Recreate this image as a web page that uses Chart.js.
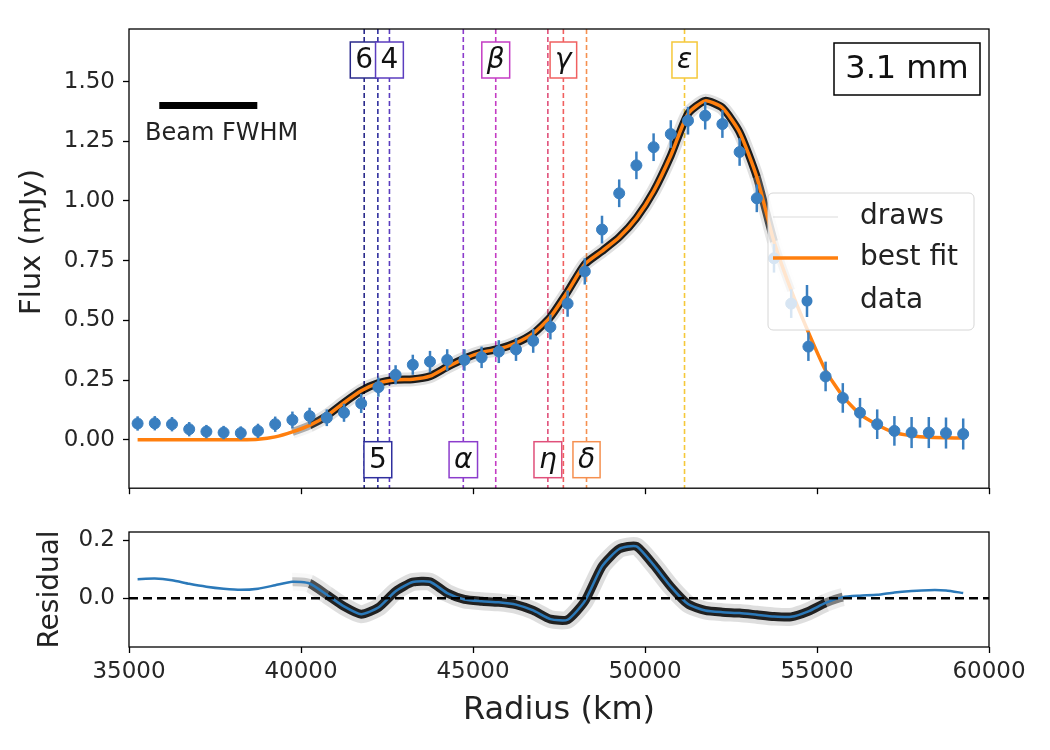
<!DOCTYPE html>
<html>
<head>
<meta charset="utf-8">
<script src="https://cdn.jsdelivr.net/npm/chart.js@4.4.0/dist/chart.umd.min.js"></script>
<style>
  html, body { margin: 0; padding: 0; background: #fff; }
  #top { position: absolute; left: 0; top: 0; width: 1050px; height: 510px; }
  #bot { position: absolute; left: 0; top: 510px; width: 1050px; height: 240px; }
</style>
</head>
<body>
<div id="top"><canvas id="flux"></canvas></div>
<div id="bot"><canvas id="resid"></canvas></div>
<script>
// radial profile, 3.1 mm
const radius = [35250, 35750, 36250, 36750, 37250, 37750, 38250, 38750, 39250, 39750,
  40250, 40750, 41250, 41750, 42250, 42750, 43250, 43750, 44250, 44750,
  45250, 45750, 46250, 46750, 47250, 47750, 48250, 48750, 49250, 49750,
  50250, 50750, 51250, 51750, 52250, 52750, 53250, 53750, 54250, 54750,
  55250, 55750, 56250, 56750, 57250, 57750, 58250, 58750, 59250];

const flux = [0.068, 0.069, 0.065, 0.044, 0.034, 0.030, 0.028, 0.037, 0.065, 0.083,
  0.099, 0.092, 0.113, 0.152, 0.220, 0.272, 0.314, 0.327, 0.334, 0.334,
  0.345, 0.369, 0.378, 0.414, 0.472, 0.570, 0.705, 0.880, 1.032, 1.149,
  1.225, 1.280, 1.336, 1.357, 1.322, 1.205, 1.011, 0.760, 0.570, 0.390,
  0.265, 0.175, 0.113, 0.065, 0.037, 0.030, 0.030, 0.028, 0.024];

const fluxErr = [0.030, 0.030, 0.030, 0.030, 0.028, 0.028, 0.028, 0.030, 0.032, 0.035,
  0.035, 0.035, 0.038, 0.040, 0.040, 0.040, 0.042, 0.045, 0.045, 0.045,
  0.045, 0.048, 0.048, 0.050, 0.052, 0.055, 0.055, 0.058, 0.058, 0.058,
  0.058, 0.058, 0.058, 0.058, 0.058, 0.058, 0.058, 0.060, 0.060, 0.060,
  0.062, 0.062, 0.062, 0.062, 0.062, 0.065, 0.065, 0.065, 0.065];

const bestFit = [0.0, 0.0, 0.0, 0.0, 0.0, 0.0, 0.0, 0.002, 0.012, 0.033,
  0.060, 0.100, 0.155, 0.205, 0.237, 0.251, 0.253, 0.266, 0.305, 0.340,
  0.366, 0.380, 0.405, 0.445, 0.514, 0.620, 0.735, 0.790, 0.848, 0.928,
  1.040, 1.190, 1.365, 1.419, 1.390, 1.288, 1.100, 0.830, 0.625, 0.450,
  0.290, 0.182, 0.107, 0.063, 0.030, 0.017, 0.010, 0.008, 0.007];

const residual = [0.066, 0.068, 0.062, 0.050, 0.040, 0.033, 0.029, 0.033, 0.045, 0.057,
  0.051, 0.012, -0.028, -0.055, -0.032, 0.024, 0.056, 0.057, 0.018, -0.004,
  -0.010, -0.014, -0.022, -0.042, -0.072, -0.074, -0.010, 0.110, 0.170, 0.179,
  0.115, 0.040, -0.020, -0.042, -0.048, -0.051, -0.057, -0.063, -0.064, -0.045,
  -0.016, 0.004, 0.009, 0.012, 0.020, 0.025, 0.028, 0.027, 0.018];

const ringNames = ['6', '5', '4', 'α', 'β', 'η', 'γ', 'δ', 'ε'];
const ringRadii = [41837, 42234, 42571, 44718, 45661, 47176, 47627, 48300, 51149];

const fluxTicks = [0, 0.25, 0.5, 0.75, 1.0, 1.25, 1.5];
const residTicks = [0, 0.2];
const beamRange = [35880, 38730];
const beamLevel = 1.40;
const zeroLine = [35000, 60000];

// styles
const C0 = '#3a7fc0';
const ORANGE = '#ff7f0e';
const ringColors = ['#2a2a8c', '#30309e', '#5b3dbf', '#8c3ccc', '#c43cc4', '#e0507a', '#f06060', '#f59050', '#f5c83a'];
const fluxBand = [39700, 54200];
const residBand = [39800, 56000];
const FONT = "'DejaVu Sans', sans-serif";

Chart.defaults.font.family = FONT;
Chart.defaults.color = '#262626';

const pts = ys => radius.map((r, i) => ({ x: r, y: ys[i] }));

// draws band fades in/out at the ends of its range
const bandColor = (range, alpha) => ctx => {
  const xm = (ctx.p0.parsed.x + ctx.p1.parsed.x) / 2;
  const f = Math.max(0, Math.min(1, (xm - range[0]) / 900, (range[1] - xm) / 900));
  return 'rgba(0,0,0,' + (alpha * f).toFixed(3) + ')';
};

function frame(chart) {
  const { ctx, chartArea: a } = chart;
  ctx.save();
  ctx.strokeStyle = '#000';
  ctx.lineWidth = 1.3;
  ctx.setLineDash([]);
  ctx.strokeRect(a.left, a.top, a.right - a.left, a.bottom - a.top);
  ctx.restore();
}

const fluxOverlay = {
  id: 'fluxOverlay',
  beforeDatasetsDraw(chart) {
    const { ctx, chartArea: a, scales: { x } } = chart;
    ctx.save();
    ctx.lineWidth = 1.6;
    ctx.setLineDash([5, 3]);
    ringRadii.forEach((r, i) => {
      const px = x.getPixelForValue(r);
      ctx.strokeStyle = ringColors[i];
      ctx.beginPath();
      ctx.moveTo(px, a.top);
      ctx.lineTo(px, a.bottom);
      ctx.stroke();
    });
    ctx.restore();
  },
  afterDatasetsDraw(chart) {
    const { ctx, chartArea: a, scales: { x, y } } = chart;
    ctx.save();

    // error bars
    ctx.strokeStyle = C0;
    ctx.lineWidth = 2.5;
    radius.forEach((r, i) => {
      const px = x.getPixelForValue(r);
      ctx.beginPath();
      ctx.moveTo(px, y.getPixelForValue(flux[i] - fluxErr[i]));
      ctx.lineTo(px, y.getPixelForValue(flux[i] + fluxErr[i]));
      ctx.stroke();
    });

    // ring labels
    ctx.textAlign = 'center';
    ctx.textBaseline = 'middle';
    ringNames.forEach((n, i) => {
      const px = x.getPixelForValue(ringRadii[i]);
      const cy = i % 2 === 0 ? a.top + 31 : a.bottom - 28.5;
      ctx.font = (/\d/.test(n) ? '' : 'italic ') + '28px ' + FONT;
      const w = ctx.measureText(n).width + 10;
      ctx.fillStyle = '#fff';
      ctx.fillRect(px - w / 2, cy - 18, w, 36);
      ctx.strokeStyle = ringColors[i];
      ctx.lineWidth = 1.5;
      ctx.strokeRect(px - w / 2, cy - 18, w, 36);
      ctx.fillStyle = '#111';
      ctx.fillText(n, px, cy + 1);
    });

    // beam
    const by = y.getPixelForValue(beamLevel);
    ctx.strokeStyle = '#000';
    ctx.lineWidth = 7;
    ctx.beginPath();
    ctx.moveTo(x.getPixelForValue(beamRange[0]), by);
    ctx.lineTo(x.getPixelForValue(beamRange[1]), by);
    ctx.stroke();
    ctx.font = '24px ' + FONT;
    ctx.fillStyle = '#222';
    ctx.textAlign = 'left';
    ctx.fillText('Beam FWHM', a.left + 16, by + 28);

    // wavelength box
    ctx.fillStyle = '#fff';
    ctx.fillRect(a.right - 155, a.top + 14, 146, 52);
    ctx.strokeStyle = '#000';
    ctx.lineWidth = 1.5;
    ctx.strokeRect(a.right - 155, a.top + 14, 146, 52);
    ctx.font = '32px ' + FONT;
    ctx.fillStyle = '#111';
    ctx.textAlign = 'center';
    ctx.fillText('3.1 mm', a.right - 82, a.top + 41);

    // legend
    const lx = a.right - 221, ly = a.top + 164, lw = 206, lh = 137;
    ctx.beginPath();
    ctx.roundRect(lx, ly, lw, lh, 5);
    ctx.fillStyle = 'rgba(255,255,255,0.8)';
    ctx.fill();
    ctx.strokeStyle = '#d6d6d6';
    ctx.lineWidth = 1;
    ctx.stroke();
    const rows = [ly + 24, ly + 65, ly + 108];
    ctx.lineWidth = 2;
    ctx.strokeStyle = 'rgba(0,0,0,0.07)';
    ctx.beginPath(); ctx.moveTo(lx + 5, rows[0]); ctx.lineTo(lx + 70, rows[0]); ctx.stroke();
    ctx.lineWidth = 3.5;
    ctx.strokeStyle = ORANGE;
    ctx.beginPath(); ctx.moveTo(lx + 5, rows[1]); ctx.lineTo(lx + 70, rows[1]); ctx.stroke();
    ctx.lineWidth = 2.5;
    ctx.strokeStyle = C0;
    ctx.beginPath(); ctx.moveTo(lx + 39, rows[2] - 16); ctx.lineTo(lx + 39, rows[2] + 16); ctx.stroke();
    ctx.fillStyle = C0;
    ctx.beginPath(); ctx.arc(lx + 39, rows[2], 5.5, 0, Math.PI * 2); ctx.fill();
    ctx.font = '28px ' + FONT;
    ctx.fillStyle = '#222';
    ctx.textAlign = 'left';
    ['draws', 'best fit', 'data'].forEach((t, i) => ctx.fillText(t, lx + 92, rows[i]));

    ctx.restore();
  },
  afterDraw(chart) {
    frame(chart);
    const { ctx } = chart;
    ctx.save();
    ctx.translate(32, 242);
    ctx.rotate(-Math.PI / 2);
    ctx.font = '29px ' + FONT;
    ctx.fillStyle = '#222';
    ctx.textAlign = 'center';
    ctx.textBaseline = 'middle';
    ctx.fillText('Flux (mJy)', 0, 0);
    ctx.restore();
  }
};

const axisGrid = { drawOnChartArea: false, color: '#000', tickLength: 6, tickWidth: 1.3 };

new Chart(document.getElementById('flux'), {
  type: 'line',
  data: {
    datasets: [
      { label: 'data', type: 'scatter', data: pts(flux), backgroundColor: C0, borderColor: C0,
        pointRadius: 5.5, pointHoverRadius: 5.5, showLine: false, order: 0 },
      { label: 'best fit', data: pts(bestFit), borderColor: ORANGE, borderWidth: 3.5,
        pointRadius: 0, tension: 0.2, order: 1 },
      { label: 'draws', data: pts(bestFit), borderColor: 'rgba(0,0,0,0.85)', borderWidth: 8,
        pointRadius: 0, tension: 0.2, order: 2,
        segment: { borderColor: bandColor(fluxBand, 0.88) } },
      { label: 'draws halo', data: pts(bestFit), borderColor: 'rgba(0,0,0,0.1)', borderWidth: 14,
        pointRadius: 0, tension: 0.2, order: 3,
        segment: { borderColor: bandColor(fluxBand, 0.12) } }
    ]
  },
  options: {
    responsive: true,
    maintainAspectRatio: false,
    animation: false,
    layout: { padding: { top: 29, right: 61, left: 0, bottom: 0 } },
    plugins: { legend: { display: false }, tooltip: { enabled: false } },
    scales: {
      x: {
        type: 'linear', min: 35000, max: 60000,
        ticks: { display: false, stepSize: 5000 },
        grid: axisGrid,
        border: { display: false },
        afterFit: s => { s.height = 17; }
      },
      y: {
        min: -0.203, max: 1.72,
        afterBuildTicks: s => { s.ticks = fluxTicks.map(v => ({ value: v })); },
        ticks: { callback: v => v.toFixed(2), font: { size: 23 }, padding: 8 },
        grid: axisGrid,
        border: { display: false },
        afterFit: s => { s.width = 129; }
      }
    }
  },
  plugins: [fluxOverlay]
});

new Chart(document.getElementById('resid'), {
  type: 'line',
  data: {
    datasets: [
      { label: 'zero', data: zeroLine.map(r => ({ x: r, y: 0 })), borderColor: '#000',
        borderWidth: 2.5, borderDash: [9, 5], pointRadius: 0, order: -1 },
      { label: 'residual', data: pts(residual), borderColor: '#2b79b9', borderWidth: 2.5,
        pointRadius: 0, tension: 0.2, order: 0 },
      { label: 'residual draws', data: pts(residual), borderColor: 'rgba(0,0,0,0.85)', borderWidth: 9,
        pointRadius: 0, tension: 0.2, order: 1,
        segment: { borderColor: bandColor(residBand, 0.85) } },
      { label: 'residual halo', data: pts(residual), borderColor: 'rgba(0,0,0,0.1)', borderWidth: 18,
        pointRadius: 0, tension: 0.2, order: 2,
        segment: { borderColor: bandColor(residBand, 0.13) } }
    ]
  },
  options: {
    responsive: true,
    maintainAspectRatio: false,
    animation: false,
    layout: { padding: { top: 22, right: 61, left: 0, bottom: 0 } },
    plugins: { legend: { display: false }, tooltip: { enabled: false } },
    scales: {
      x: {
        type: 'linear', min: 35000, max: 60000,
        ticks: { stepSize: 5000, font: { size: 23 }, padding: 5, maxRotation: 0, callback: v => String(v) },
        grid: axisGrid,
        border: { display: false },
        title: { display: true, text: 'Radius (km)', font: { size: 32 }, color: '#222', padding: { top: 0, bottom: 20 } },
        afterFit: s => { s.height = 103; }
      },
      y: {
        min: -0.168, max: 0.2285,
        afterBuildTicks: s => { s.ticks = residTicks.map(v => ({ value: v })); },
        ticks: { callback: v => v.toFixed(1), font: { size: 23 }, padding: 8 },
        grid: axisGrid,
        border: { display: false },
        title: { display: true, text: 'Residual', font: { size: 28 }, color: '#222', padding: { top: 34, bottom: 0 } },
        afterFit: s => { s.width = 129; }
      }
    }
  },
  plugins: [{ id: 'residFrame', afterDraw: frame }]
});
</script>
</body>
</html>
